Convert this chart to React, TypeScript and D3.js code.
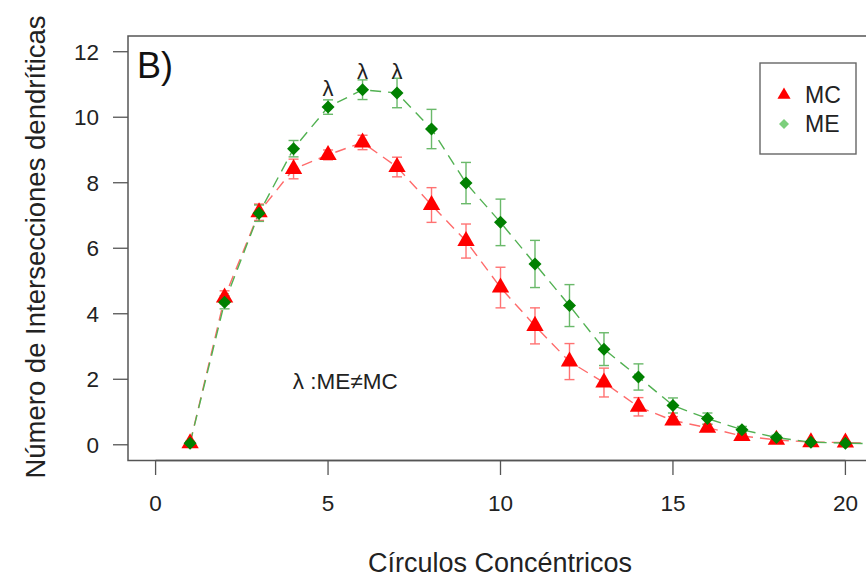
import React from "react";
import * as d3 from "d3";

const circles = [1, 2, 3, 4, 5, 6, 7, 8, 9, 10, 11, 12, 13, 14, 15, 16, 17, 18, 19, 20, 21];
const mcMean = [0.05, 4.5, 7.1, 8.42, 8.85, 9.23, 8.48, 7.32, 6.22, 4.8, 3.63, 2.54, 1.9, 1.16, 0.74, 0.52, 0.27, 0.15, 0.08, 0.07, 0.03];
const mcSE = [0.05, 0.2, 0.25, 0.3, 0.15, 0.22, 0.3, 0.53, 0.52, 0.62, 0.55, 0.55, 0.44, 0.28, 0.12, 0.1, 0.07, 0.05, 0.03, 0.03, 0.02];
const meMean = [0.05, 4.35, 7.07, 9.04, 10.31, 10.84, 10.74, 9.64, 7.99, 6.79, 5.52, 4.25, 2.92, 2.07, 1.2, 0.8, 0.46, 0.22, 0.08, 0.05, 0.03];
const meSE = [0.05, 0.2, 0.25, 0.25, 0.22, 0.3, 0.45, 0.6, 0.63, 0.71, 0.72, 0.64, 0.5, 0.4, 0.23, 0.17, 0.1, 0.07, 0.04, 0.03, 0.02];
const xTicks = [0, 5, 10, 15, 20];
const yTicks = [0, 2, 4, 6, 8, 10, 12];
const lambdaX = [5, 6, 7];
const lambdaY = [10.9, 11.4, 11.4];
const seriesNames = ["MC", "ME"];

const W = 866;
const H = 578;
const FONT = "'Liberation Sans', Arial, sans-serif";

export default function App() {
  const x = d3.scaleLinear().domain([-0.8, 20.8]).range([128, 873]);
  const y = d3.scaleLinear().domain([-0.48, 12.48]).range([460.5, 36]);

  const line = d3
    .line<number>()
    .x((_, i) => x(circles[i]))
    .y((d) => y(d));

  const tri = d3.symbol().type(d3.symbolTriangle).size(130)() as string;
  const diamond = (r: number) => `M0,${-r}L${r},0L0,${r}L${-r},0Z`;

  const errBars = (mean: number[], se: number[], color: string, key: string) =>
    circles.map((c, i) => {
      const cx = x(c);
      const y1 = y(mean[i] + se[i]);
      const y2 = y(mean[i] - se[i]);
      return (
        <g key={key + i} stroke={color} strokeWidth={1.4} opacity={0.8}>
          <line x1={cx} x2={cx} y1={y1} y2={y2} />
          <line x1={cx - 5} x2={cx + 5} y1={y1} y2={y1} />
          <line x1={cx - 5} x2={cx + 5} y1={y2} y2={y2} />
        </g>
      );
    });

  return (
    <svg width={W} height={H} style={{ position: "absolute", left: 0, top: 0, background: "#fff" }}>
      <defs>
        <clipPath id="plotclip">
          <rect x={128} y={36} width={745} height={424.5} />
        </clipPath>
      </defs>
      <rect x={0} y={0} width={W} height={H} fill="#fff" />

      {/* plot box */}
      <rect x={128} y={36} width={745} height={424.5} fill="none" stroke="#555" strokeWidth={1.5} />

      {/* y axis */}
      {yTicks.map((t) => (
        <g key={"yt" + t}>
          <line x1={113} x2={128} y1={y(t)} y2={y(t)} stroke="#555" strokeWidth={1.3} />
          <text x={99} y={y(t)} dy="0.36em" textAnchor="end" fontFamily={FONT} fontSize={22.5} fill="#222">
            {t}
          </text>
        </g>
      ))}
      {/* x axis */}
      <line x1={x(0)} x2={x(20)} y1={460.5} y2={460.5} stroke="#555" strokeWidth={1.3} />
      {xTicks.map((t) => (
        <g key={"xt" + t}>
          <line x1={x(t)} x2={x(t)} y1={460.5} y2={475} stroke="#555" strokeWidth={1.3} />
          <text x={x(t)} y={511} textAnchor="middle" fontFamily={FONT} fontSize={22.5} fill="#222">
            {t}
          </text>
        </g>
      ))}

      {/* axis titles */}
      <text x={500} y={572} textAnchor="middle" fontFamily={FONT} fontSize={27} fill="#222">
        Círculos Concéntricos
      </text>
      <text
        transform={`translate(45,${247}) rotate(-90)`}
        textAnchor="middle"
        fontFamily={FONT}
        fontSize={27.5}
        fill="#222"
      >
        Número de Intersecciones dendríticas
      </text>

      <g clipPath="url(#plotclip)">
        {/* lines */}
        <path d={line(mcMean) || ""} fill="none" stroke="#ff6b6b" strokeWidth={1.4} strokeDasharray="11,7" />
        <path d={line(meMean) || ""} fill="none" stroke="#52b152" strokeWidth={1.4} strokeDasharray="11,7" />

        {errBars(mcMean, mcSE, "#ff5050", "mce")}
        {errBars(meMean, meSE, "#45a845", "mee")}

        {circles.map((c, i) => (
          <path key={"mc" + i} d={tri} transform={`translate(${x(c)},${y(mcMean[i])})`} fill="#ff0000" />
        ))}
        {circles.map((c, i) => (
          <path key={"me" + i} d={diamond(6.5)} transform={`translate(${x(c)},${y(meMean[i])})`} fill="#008000" />
        ))}

        {lambdaX.map((lx, i) => (
          <text key={"l" + i} x={x(lx)} y={y(lambdaY[i])} dy="0.36em" textAnchor="middle" fontFamily={FONT} fontSize={22} fill="#222">
            λ
          </text>
        ))}
        <text x={x(5.5)} y={y(1.95)} dy="0.36em" textAnchor="middle" fontFamily={FONT} fontSize={22.5} fill="#222">
          λ :ME≠MC
        </text>
        <text x={137} y={78} fontFamily={FONT} fontSize={36} fill="#111">
          B)
        </text>

        {/* legend */}
        <rect x={760} y={63} width={96} height={91} fill="#fff" stroke="#666" strokeWidth={1.4} />
        <path d={d3.symbol().type(d3.symbolTriangle).size(75)() as string} transform="translate(784,95)" fill="#ff0000" />
        <path d={diamond(5)} transform="translate(784,124)" fill="#7ccf7c" />
        <text x={805} y={95} dy="0.36em" fontFamily={FONT} fontSize={23} fill="#222">
          {seriesNames[0]}
        </text>
        <text x={805} y={124} dy="0.36em" fontFamily={FONT} fontSize={23} fill="#222">
          {seriesNames[1]}
        </text>
      </g>
    </svg>
  );
}
